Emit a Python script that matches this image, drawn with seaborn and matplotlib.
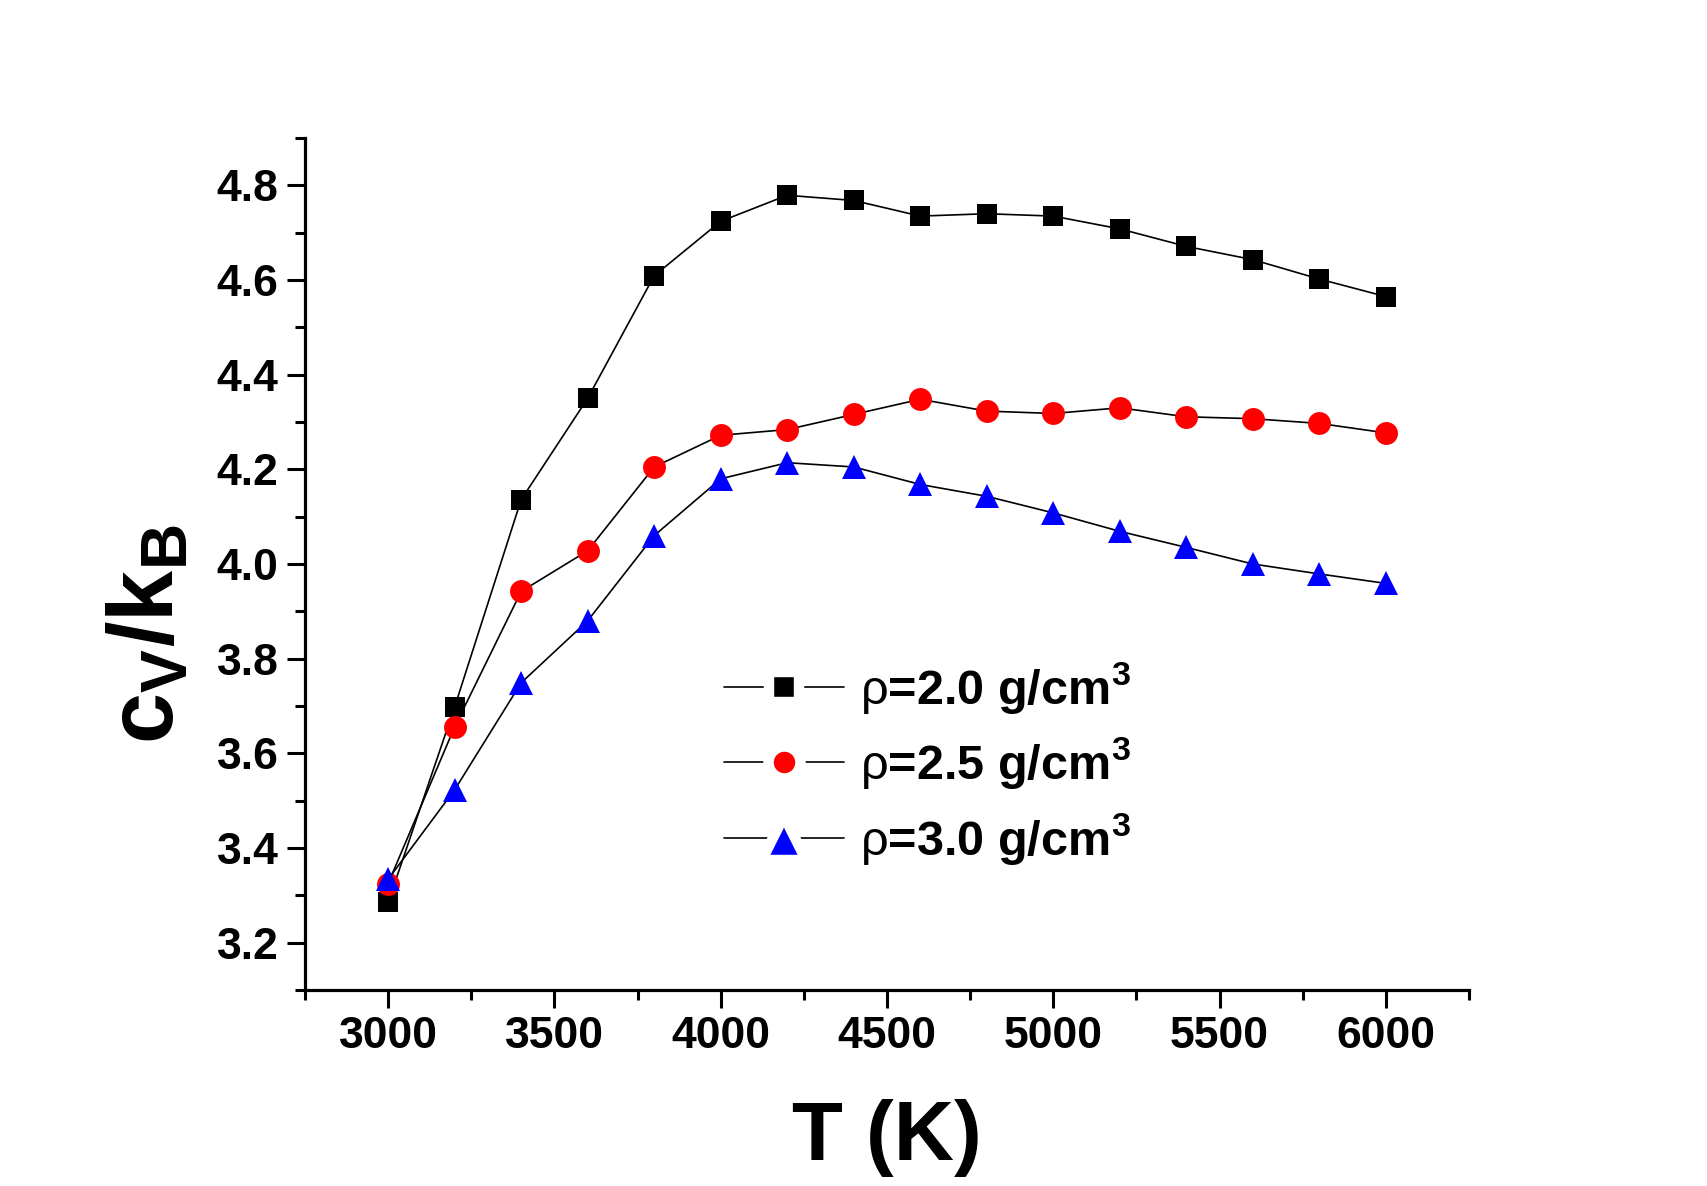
import matplotlib
matplotlib.use("Agg")
import matplotlib.pyplot as plt
from matplotlib.lines import Line2D
import seaborn as sns
import pandas as pd
import numpy as np

T = [3000, 3200, 3400, 3600, 3800, 4000, 4200, 4400, 4600, 4800, 5000, 5200, 5400, 5600, 5800, 6000]
cv_rho20 = [3.285, 3.698, 4.136, 4.350, 4.609, 4.724, 4.779, 4.768, 4.735, 4.740, 4.735, 4.708, 4.671, 4.643, 4.602, 4.565]
cv_rho25 = [3.325, 3.656, 3.942, 4.028, 4.205, 4.272, 4.284, 4.316, 4.348, 4.323, 4.318, 4.330, 4.311, 4.307, 4.297, 4.277]
cv_rho30 = [3.334, 3.523, 3.749, 3.880, 4.060, 4.180, 4.214, 4.205, 4.168, 4.143, 4.108, 4.069, 4.035, 4.000, 3.979, 3.959]
labels = [r"$\rho$=2.0 g/cm$^{\mathbf{3}}$", r"$\rho$=2.5 g/cm$^{\mathbf{3}}$", r"$\rho$=3.0 g/cm$^{\mathbf{3}}$"]

sns.set_theme(style="ticks")
plt.rcParams["font.family"] = ["Liberation Sans", "DejaVu Sans"]
plt.rcParams["mathtext.fontset"] = "custom"
plt.rcParams["mathtext.rm"] = "Liberation Sans"
plt.rcParams["mathtext.it"] = "Liberation Sans"
plt.rcParams["mathtext.bf"] = "Liberation Sans:bold"
for k in ["text.color", "axes.labelcolor", "xtick.color", "ytick.color", "axes.edgecolor"]:
    plt.rcParams[k] = "black"

fig = plt.figure(figsize=(17.07, 11.86), dpi=100)
ax = fig.add_axes([305/1707, 1-990/1186, (1469-305)/1707, (990-138)/1186])

series = [cv_rho20, cv_rho25, cv_rho30]
markers = ["s", "o", "^"]
colors = ["black", "red", "blue"]
msizes = [14.5, 16.5, 17.5]
for vals, lab, m, c, ms in zip(series, labels, markers, colors, msizes):
    df = pd.DataFrame({"T": T, "cv": vals})
    sns.lineplot(data=df, x="T", y="cv", ax=ax, color="black", linewidth=1.2,
                 marker=m, markersize=ms, markerfacecolor=c, markeredgecolor=c,
                 markeredgewidth=0, label=lab)

ax.set_xlim(2750, 6250)
ax.set_ylim(3.1, 4.9)
ax.set_xticks([3000, 3500, 4000, 4500, 5000, 5500, 6000])
ax.set_xticks(np.arange(2750, 6251, 250), minor=True)
ax.set_yticks([3.2, 3.4, 3.6, 3.8, 4.0, 4.2, 4.4, 4.6, 4.8])
ax.set_yticks(np.arange(3.1, 4.91, 0.1), minor=True)
ax.set_yticklabels(["3.2", "3.4", "3.6", "3.8", "4.0", "4.2", "4.4", "4.6", "4.8"])
for side in ["top", "right"]:
    ax.spines[side].set_visible(False)
for side in ["left", "bottom"]:
    ax.spines[side].set_linewidth(2.3)
    ax.spines[side].set_color("black")
ax.tick_params(which="major", direction="out", length=13, width=2.2, labelsize=32, pad=6, colors="black")
ax.tick_params(which="minor", direction="out", length=7, width=2.2, colors="black")
for t in ax.get_xticklabels() + ax.get_yticklabels():
    t.set_fontweight("bold")

ax.set_xlabel("T (K)", fontsize=60, fontweight="bold", labelpad=30)
ax.set_ylabel(r"c$_{\mathbf{V}}$/k$_{\mathbf{B}}$", fontsize=66, fontweight="bold")
ax.yaxis.set_label_coords(-0.097, 0.418)

# legend handles: line with a white gap around the marker
leg_ms = [22.0, 23.0, 31.0]
leg_mew = [7.5, 7.5, 7.5]
handles = [Line2D([0], [0], color="black", linewidth=1.2, marker=m,
                  markersize=s, markeredgewidth=w, markeredgecolor="white",
                  markerfacecolor=c)
           for m, c, s, w in zip(markers, colors, leg_ms, leg_mew)]
leg = ax.legend(handles, labels, loc="upper left", bbox_to_anchor=(724/1707, 1-660/1186),
                bbox_transform=fig.transFigure, frameon=False, fontsize=35,
                handlelength=2.47, handletextpad=0.33, labelspacing=0.4,
                borderpad=0, borderaxespad=0)
for t in leg.get_texts():
    t.set_fontweight("bold")
    t.set_color("black")

fig.savefig("out.png", dpi=100)
